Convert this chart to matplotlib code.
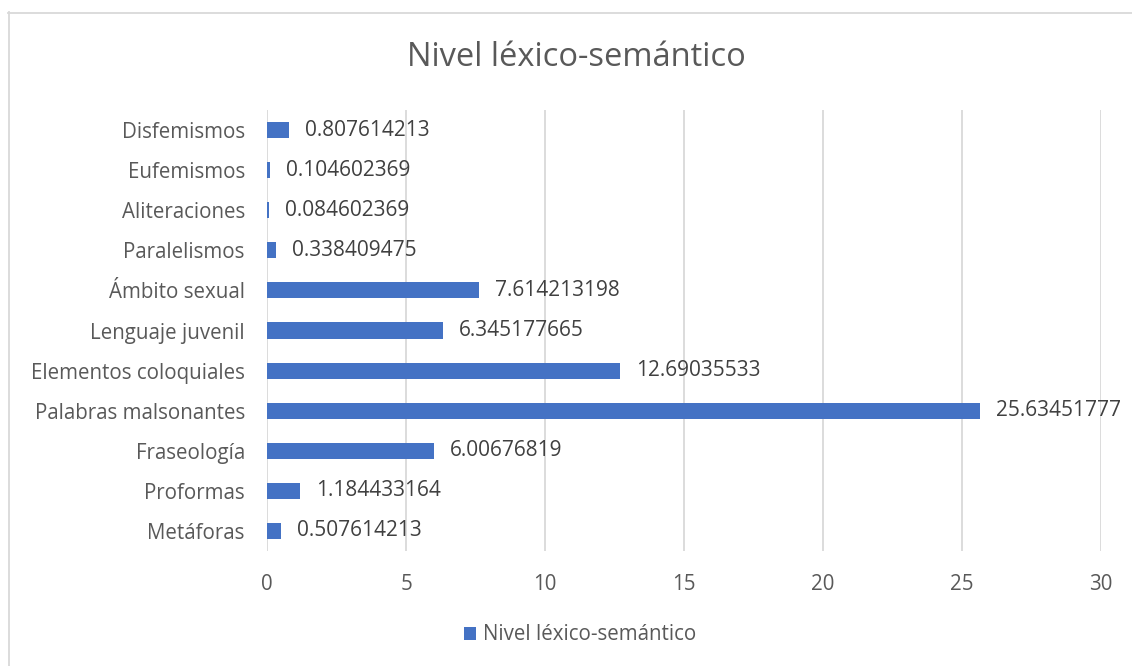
import matplotlib
matplotlib.use("Agg")
import matplotlib.pyplot as plt
from matplotlib.lines import Line2D

categories = ["Metáforas", "Proformas", "Fraseología", "Palabras malsonantes",
              "Elementos coloquiales", "Lenguaje juvenil", "Ámbito sexual",
              "Paralelismos", "Aliteraciones", "Eufemismos", "Disfemismos"]
values = [0.507614213, 1.184433164, 6.00676819, 25.63451777, 12.69035533,
          6.345177665, 7.614213198, 0.338409475, 0.084602369, 0.104602369,
          0.807614213]
labels = ["0.507614213", "1.184433164", "6.00676819", "25.63451777", "12.69035533",
          "6.345177665", "7.614213198", "0.338409475", "0.084602369", "0.104602369",
          "0.807614213"]
xticks = [0, 5, 10, 15, 20, 25, 30]
series_name = "Nivel léxico-semántico"
title = "Nivel léxico-semántico"

plt.rcParams['font.family'] = ['Open Sans', 'DejaVu Sans']
BAR = "#4472C4"
TXT = "#595959"

W, H = 1132, 666
fig = plt.figure(figsize=(W / 100, H / 100), dpi=100)
# chart border (only top and left visible in reference)
fig.lines.append(Line2D([8 / W, 1.0], [1 - 12.5 / H] * 2, transform=fig.transFigure,
                        color="#D9D9D9", linewidth=1.3))
fig.lines.append(Line2D([8.5 / W] * 2, [0, 1 - 12 / H], transform=fig.transFigure,
                        color="#D9D9D9", linewidth=1.3))

ax = fig.add_axes([267 / W, 1 - 551 / H, (1101 - 267) / W, (551 - 110) / H])

y = list(range(len(categories)))
ax.barh(y, values, height=0.4, color=BAR, zorder=3, label=series_name)
for yi, v, lab in zip(y, values, labels):
    ax.annotate(lab, (v, yi), xytext=(11.5, 0), textcoords="offset points",
                va="center", ha="left", fontsize=15, color="#404040")

ax.set_xlim(0, 30)
ax.set_ylim(-0.5, len(categories) - 0.5)
ax.set_xticks(xticks)
ax.set_yticks(y)
ax.set_yticklabels(categories)
ax.tick_params(axis="both", length=0, labelsize=14.8, colors=TXT)
ax.tick_params(axis="x", pad=16.5)
ax.tick_params(axis="y", pad=16)
ax.grid(axis="x", color="#D9D9D9", linewidth=1.3, zorder=0)
for s in ax.spines.values():
    s.set_visible(False)

fig.text(576 / W, 1 - 58 / H, title, ha="center", va="center", fontsize=23.5, color=TXT)
handles, lbls = ax.get_legend_handles_labels()
fig.legend(handles, lbls, loc="center", bbox_to_anchor=(580 / W, 1 - 635 / H), frameon=False,
           fontsize=14.8, labelcolor=TXT, handlelength=0.6, handleheight=0.6, handletextpad=0.3)

fig.savefig("out.png", dpi=100)
